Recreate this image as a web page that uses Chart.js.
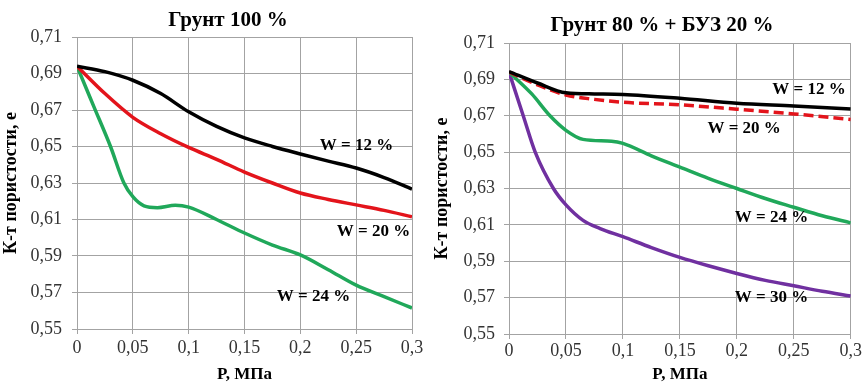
<!DOCTYPE html>
<html>
<head>
<meta charset="utf-8">
<script src="https://cdn.jsdelivr.net/npm/chart.js@4/dist/chart.umd.min.js"></script>
<style>
  body { margin: 0; background: #fff; }
  .box { position: absolute; top: 0; height: 389px; }
  #leftBox { left: 0; width: 430px; }
  #rightBox { left: 430px; width: 433px; }
</style>
</head>
<body>
<div class="box" id="leftBox"><canvas id="chartLeft"></canvas></div>
<div class="box" id="rightBox"><canvas id="chartRight"></canvas></div>
<script>
// Void ratio e vs. pressure P

// Грунт 100 %
const leftW12P = [0, 0.025, 0.05, 0.075, 0.1, 0.125, 0.15, 0.175, 0.2, 0.225, 0.25, 0.275, 0.3];
const leftW12E = [0.694, 0.691, 0.6863, 0.679, 0.669, 0.661, 0.6547, 0.650, 0.6459, 0.642, 0.6382, 0.633, 0.6267];

const leftW20P = [0, 0.025, 0.05, 0.075, 0.1, 0.125, 0.15, 0.175, 0.2, 0.225, 0.25, 0.275, 0.3];
const leftW20E = [0.694, 0.679, 0.666, 0.657, 0.6495, 0.643, 0.636, 0.630, 0.6245, 0.621, 0.618, 0.615, 0.6115];

const leftW24P = [0, 0.015, 0.03, 0.042, 0.05, 0.06, 0.072, 0.088, 0.1, 0.125, 0.15, 0.175, 0.2, 0.225, 0.25, 0.275, 0.3];
const leftW24E = [0.694, 0.672, 0.650, 0.630, 0.6225, 0.6175, 0.6165, 0.6178, 0.6168, 0.610, 0.6026, 0.596, 0.5906, 0.5825, 0.574, 0.5677, 0.5615];

// Грунт 80 % + БУЗ 20 %
const rightW12P = [0, 0.025, 0.05, 0.075, 0.1, 0.15, 0.2, 0.25, 0.3];
const rightW12E = [0.6943, 0.688, 0.6826, 0.682, 0.6817, 0.6796, 0.6769, 0.6754, 0.6737];

const rightW20P = [0, 0.025, 0.05, 0.075, 0.1, 0.15, 0.2, 0.25, 0.3];
const rightW20E = [0.694, 0.687, 0.6814, 0.679, 0.6774, 0.676, 0.6736, 0.671, 0.668];

const rightW24P = [0, 0.02, 0.036, 0.05, 0.065, 0.09, 0.1, 0.125, 0.15, 0.175, 0.2, 0.225, 0.25, 0.275, 0.3];
const rightW24E = [0.694, 0.682, 0.670, 0.662, 0.657, 0.656, 0.6548, 0.648, 0.6418, 0.6356, 0.630, 0.6245, 0.6197, 0.615, 0.6111];

const rightW30P = [0, 0.0125, 0.023, 0.039, 0.05, 0.065, 0.08, 0.1, 0.125, 0.15, 0.175, 0.2, 0.225, 0.25, 0.275, 0.3];
const rightW30E = [0.694, 0.670, 0.650, 0.630, 0.621, 0.6125, 0.608, 0.6035, 0.5975, 0.5921, 0.5875, 0.5833, 0.5795, 0.5765, 0.5735, 0.5709];

// Curve captions: text and anchor (P, e)
const leftCaptions = [
  { text: 'W = 12 %', p: 0.2503, e: 0.6503 },
  { text: 'W = 20 %', p: 0.2655, e: 0.6032 },
  { text: 'W = 24 %', p: 0.2118, e: 0.5675 }
];
const rightCaptions = [
  { text: 'W = 12 %', p: 0.2633, e: 0.6842 },
  { text: 'W = 20 %', p: 0.2064, e: 0.6632 },
  { text: 'W = 24 %', p: 0.2305, e: 0.614 },
  { text: 'W = 30 %', p: 0.2305, e: 0.5698 }
];

const FONT = "'Liberation Serif', 'Times New Roman', serif";
const GRID = '#a3a3a3';

function points(xs, ys) {
  return xs.map((x, i) => ({ x: x, y: ys[i] }));
}

function commaLabel(value) {
  return String(Math.round(value * 100) / 100).replace('.', ',');
}

// captions next to the curves + the heading above the plot
const captionPlugin = {
  id: 'captions',
  afterDatasetsDraw(chart, args, opts) {
    const ctx = chart.ctx;
    ctx.save();
    ctx.fillStyle = '#000';
    ctx.textAlign = 'center';
    ctx.textBaseline = 'middle';
    ctx.font = 'bold 17px ' + FONT;
    (opts.items || []).forEach(c => {
      ctx.fillText(c.text, chart.scales.x.getPixelForValue(c.p), chart.scales.y.getPixelForValue(c.e));
    });
    if (opts.heading) {
      ctx.font = 'bold ' + opts.heading.size + 'px ' + FONT;
      ctx.fillText(opts.heading.text, opts.heading.x, opts.heading.y);
    }
    ctx.restore();
  }
};

function line(label, xs, ys, color, dash) {
  return {
    label: label,
    data: points(xs, ys),
    borderColor: color,
    borderWidth: 3.5,
    borderDash: dash || [],
    pointRadius: 0,
    cubicInterpolationMode: 'monotone',
    fill: false
  };
}

function makeChart(id, title, datasets, captions, cfg) {
  new Chart(document.getElementById(id), {
    type: 'line',
    data: { datasets: datasets },
    plugins: [captionPlugin],
    options: {
      responsive: true,
      maintainAspectRatio: false,
      animation: false,
      layout: { padding: { left: 0, right: cfg.padRight, top: cfg.padTop, bottom: 0 } },
      plugins: {
        legend: { display: false },
        tooltip: { enabled: false },
        captions: {
          items: captions,
          heading: { text: title, size: cfg.titleSize, x: cfg.titleX, y: cfg.titleY }
        }
      },
      scales: {
        x: {
          type: 'linear',
          min: 0,
          max: 0.3,
          afterFit: s => { s.height = cfg.xHeight; },
          grid: { color: GRID, lineWidth: 1, tickLength: 5 },
          border: { color: GRID },
          ticks: {
            stepSize: 0.05,
            padding: cfg.xPad,
            color: '#333',
            font: { family: FONT, size: 18 },
            callback: v => commaLabel(v)
          },
          title: {
            display: true,
            text: 'P, МПа',
            color: '#000',
            font: { family: FONT, size: 17, weight: 'bold' },
            padding: { top: 0, bottom: 4 }
          }
        },
        y: {
          min: 0.55,
          max: 0.71,
          afterFit: s => { s.width = cfg.yWidth; },
          grid: { color: GRID, lineWidth: 1, tickLength: 5 },
          border: { color: GRID },
          ticks: {
            stepSize: 0.02,
            padding: cfg.yPad,
            color: '#333',
            font: { family: FONT, size: 18 },
            callback: v => v.toFixed(2).replace('.', ',')
          },
          title: {
            display: true,
            text: 'К-т пористости, е',
            color: '#000',
            font: { family: FONT, size: 18, weight: 'bold' },
            padding: { top: cfg.yTitleTop, bottom: 0 }
          }
        }
      }
    }
  });
}

makeChart('chartLeft', 'Грунт 100 %', [
  line('W = 12 %', leftW12P, leftW12E, '#000000'),
  line('W = 20 %', leftW20P, leftW20E, '#e3141b'),
  line('W = 24 %', leftW24P, leftW24E, '#20a85a')
], leftCaptions, { padRight: 18, padTop: 37, titleSize: 21, titleX: 228, titleY: 21, xHeight: 60, xPad: 3, yWidth: 77, yPad: 10, yTitleTop: 1 });

makeChart('chartRight', 'Грунт 80 % + БУЗ 20 %', [
  line('W = 12 %', rightW12P, rightW12E, '#000000'),
  line('W = 20 %', rightW20P, rightW20E, '#e3141b', [10, 5]),
  line('W = 24 %', rightW24P, rightW24E, '#20a85a'),
  line('W = 30 %', rightW30P, rightW30E, '#7030a0')
], rightCaptions, { padRight: 11, padTop: 43, titleSize: 21, titleX: 232, titleY: 26, xHeight: 55, xPad: 1, yWidth: 79, yPad: 9, yTitleTop: 2 });
</script>
</body>
</html>
